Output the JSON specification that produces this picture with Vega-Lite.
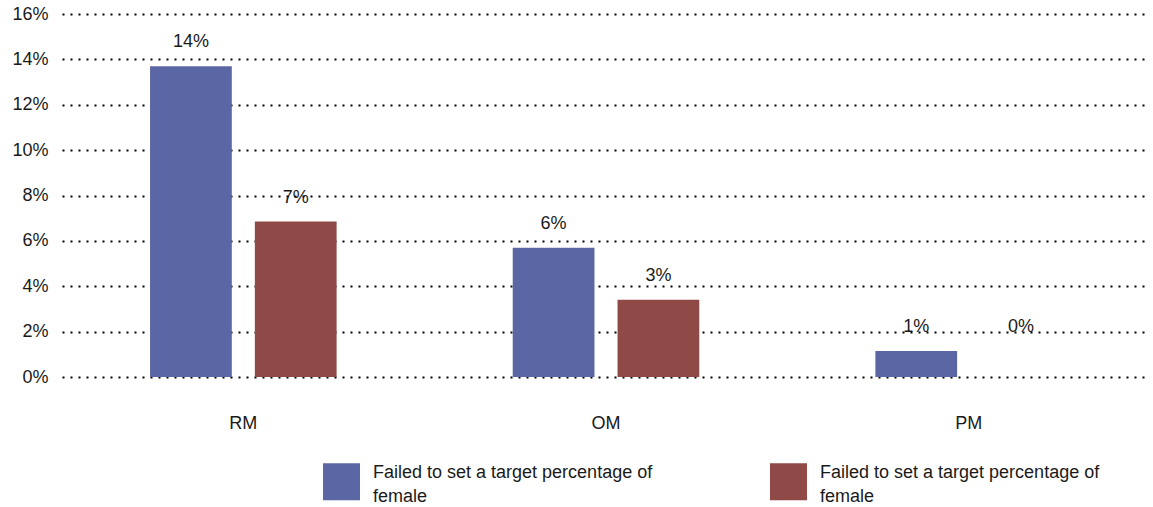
{
  "$schema": "https://vega.github.io/schema/vega-lite/v6.json",
  "autosize": {"type": "none"},
  "padding": {"left": 62, "top": 14, "right": 3, "bottom": 130},
  "width": 1088,
  "height": 363,
  "background": "white",
  "config": {
    "view": {"stroke": null},
    "font": "Liberation Sans",
    "text": {"font": "Liberation Sans"}
  },
  "data": {
    "values": [
      {"group": "RM", "series": "Series 1", "value": 0.137},
      {"group": "RM", "series": "Series 2", "value": 0.0685},
      {"group": "OM", "series": "Series 1", "value": 0.057},
      {"group": "OM", "series": "Series 2", "value": 0.034},
      {"group": "PM", "series": "Series 1", "value": 0.0115},
      {"group": "PM", "series": "Series 2", "value": 0}
    ]
  },
  "encoding": {
    "x": {
      "field": "group",
      "type": "nominal",
      "sort": ["RM", "OM", "PM"],
      "scale": {"paddingInner": 0, "paddingOuter": 0},
      "axis": {
        "title": null,
        "labelAngle": 0,
        "domain": false,
        "ticks": false,
        "labelPadding": 37,
        "labelFontSize": 18,
        "labelColor": "#1a1a1a",
        "labelFont": "Liberation Sans"
      }
    },
    "xOffset": {
      "field": "series",
      "type": "nominal",
      "scale": {"paddingInner": 0.22, "paddingOuter": 0.84}
    }
  },
  "layer": [
    {
      "mark": {"type": "bar"},
      "encoding": {
        "y": {
          "field": "value",
          "type": "quantitative",
          "scale": {"domain": [0, 0.16], "nice": false},
          "axis": {
            "title": null,
            "values": [0, 0.02, 0.04, 0.06, 0.08, 0.1, 0.12, 0.14, 0.16],
            "format": ".0%",
            "domain": false,
            "ticks": false,
            "labelPadding": 14,
            "labelFontSize": 18,
            "labelColor": "#1a1a1a",
            "labelFont": "Liberation Sans",
            "grid": true,
            "gridColor": "#000000",
            "gridDash": [2, 6],
            "gridWidth": 2,
            "gridOpacity": 1
          }
        },
        "color": {
          "field": "series",
          "type": "nominal",
          "scale": {"domain": ["Series 1", "Series 2"], "range": ["#5b67a4", "#8f4a48"]},
          "legend": {
            "title": null,
            "orient": "none",
            "legendX": 261,
            "legendY": 449,
            "direction": "horizontal",
            "symbolType": "square",
            "symbolSize": 1369,
            "symbolStrokeWidth": 0,
            "symbolOpacity": 1,
            "labelFontSize": 18,
            "labelFont": "Liberation Sans",
            "labelColor": "#1a1a1a",
            "labelOffset": 13,
            "labelLimit": 400,
            "labelLineHeight": 24,
            "labelExpr": "['Failed to set a target percentage of', 'female']",
            "columnPadding": 117,
            "encode": {"labels": {"update": {"dy": {"value": -9}, "lineHeight": {"value": 24}}}}
          }
        }
      }
    },
    {
      "transform": [{"calculate": "max(datum.value, 0.0115)", "as": "labelPos"}],
      "mark": {"type": "text", "baseline": "alphabetic", "dy": -19, "fontSize": 18, "color": "#1a1a1a", "font": "Liberation Sans"},
      "encoding": {
        "y": {"field": "labelPos", "type": "quantitative"},
        "text": {"field": "value", "type": "quantitative", "format": ".0%"}
      }
    }
  ]
}
